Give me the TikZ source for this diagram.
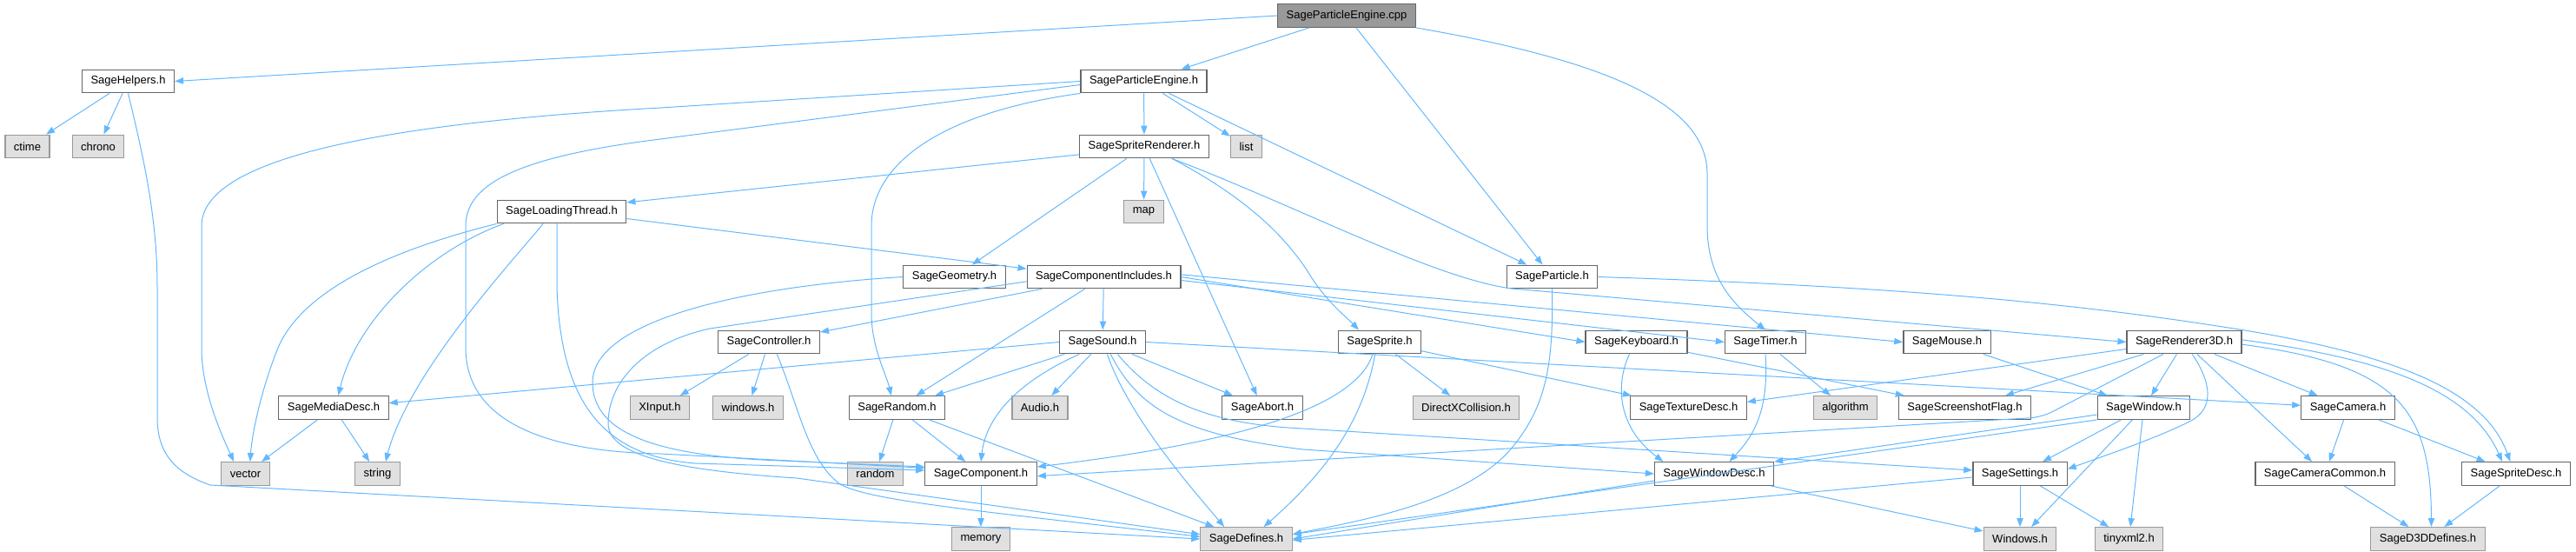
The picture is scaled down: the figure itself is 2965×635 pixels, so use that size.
\documentclass[tikz,border=0pt]{standalone}
\usepackage{fontspec}
\setmainfont{Liberation Sans}
\usetikzlibrary{arrows.meta}
\definecolor{dxedge}{HTML}{63B8FF}
\definecolor{dxborder}{HTML}{666666}
\definecolor{dxextborder}{HTML}{999999}
\definecolor{dxextfill}{HTML}{E0E0E0}
\definecolor{dxroot}{HTML}{999999}

\begin{document}
\begin{tikzpicture}[x=0.75pt, y=-0.75pt,
    hdr/.style={draw=dxborder, fill=white, line width=0.9pt, minimum height=20pt, inner xsep=7.5pt, inner ysep=0pt, font=\fontsize{9.75}{11}\selectfont},
    ext/.style={hdr, draw=dxextborder, fill=dxextfill},
    rootfile/.style={hdr, fill=dxroot},
    dep/.style={draw=dxedge, line width=0.75pt, -{Triangle[length=7.5pt,width=5.5pt]}}
  ]
  \useasboundingbox (0,0) rectangle (2965,635);

  % Row 0
  \node[rootfile] (cpp) at (1550,18) {SageParticleEngine.cpp};
  % Row 1
  \node[hdr] (helpers) at (147.5,93.5) {SageHelpers.h};
  \node[hdr] (pe) at (1316.5,93.5) {SageParticleEngine.h};
  % Row 2
  \node[ext] (ctime) at (31.5,168.5) {ctime};
  \node[ext] (chrono) at (113,168.5) {chrono};
  \node[hdr] (spr) at (1317,168.5) {SageSpriteRenderer.h};
  \node[ext] (list) at (1434.5,168.5) {list};
  % Row 3
  \node[hdr] (loading) at (646.5,243.5) {SageLoadingThread.h};
  \node[ext] (map) at (1316.5,243.5) {map};
  % Row 4
  \node[hdr] (geometry) at (1098.5,318.5) {SageGeometry.h};
  \node[hdr] (compinc) at (1270.5,318.5) {SageComponentIncludes.h};
  \node[hdr] (particle) at (1786.5,318.5) {SageParticle.h};
  % Row 5
  \node[hdr] (controller) at (885,393.5) {SageController.h};
  \node[hdr] (sound) at (1269,393.5) {SageSound.h};
  \node[hdr] (sprite) at (1588,393.5) {SageSprite.h};
  \node[hdr] (keyboard) at (1883.5,393.5) {SageKeyboard.h};
  \node[hdr] (timer) at (2032,393.5) {SageTimer.h};
  \node[hdr] (mouse) at (2241,393.5) {SageMouse.h};
  \node[hdr] (renderer) at (2514,393.5) {SageRenderer3D.h};
  % Row 6
  \node[hdr] (mediadesc) at (384,469) {SageMediaDesc.h};
  \node[ext] (xinput) at (759.5,469) {XInput.h};
  \node[ext] (winlower) at (861,469) {windows.h};
  \node[hdr] (random) at (1032.5,469) {SageRandom.h};
  \node[ext] (audio) at (1197,469) {Audio.h};
  \node[hdr] (abort) at (1453,469) {SageAbort.h};
  \node[ext] (dxcoll) at (1687.5,469) {DirectXCollision.h};
  \node[hdr] (texdesc) at (1943.5,469) {SageTextureDesc.h};
  \node[ext] (algorithm) at (2124,469) {algorithm};
  \node[hdr] (screenshot) at (2261.5,469) {SageScreenshotFlag.h};
  \node[hdr] (window) at (2467.5,469) {SageWindow.h};
  \node[hdr] (camera) at (2702.5,469) {SageCamera.h};
  % Row 7
  \node[ext] (vector) at (282.5,545) {vector};
  \node[ext] (string) at (434.5,545) {string};
  \node[ext] (randomstd) at (1007.5,545) {random};
  \node[hdr] (component) at (1129,545) {SageComponent.h};
  \node[hdr] (windesc) at (1973,545) {SageWindowDesc.h};
  \node[hdr] (settings) at (2325,545) {SageSettings.h};
  \node[hdr] (camcommon) at (2676,545) {SageCameraCommon.h};
  \node[hdr] (spritedesc) at (2896,545) {SageSpriteDesc.h};
  % Row 8
  \node[ext] (memory) at (1129,620) {memory};
  \node[ext] (defines) at (1434.5,620) {SageDefines.h};
  \node[ext] (winupper) at (2325,620) {Windows.h};
  \node[ext] (tinyxml) at (2450.5,620) {tinyxml2.h};
  \node[ext] (d3d) at (2794.5,620) {SageD3DDefines.h};

  % SageParticleEngine.cpp
  \draw[dep] (cpp.west) -- (helpers.east);
  \draw[dep] (cpp) -- (pe);
  \draw[dep] (cpp) -- (particle);
  \draw[dep] (cpp.south east) .. controls (1850,70) and (1965,120) .. (1965,200) -- (1965,260) .. controls (1965,320) and (1995,350) .. (timer.north);

  % SageHelpers.h
  \draw[dep] (helpers) -- (ctime);
  \draw[dep] (helpers) -- (chrono);
  \draw[dep] (helpers.south) .. controls (165,180) and (181,250) .. (181,330) -- (181,480) .. controls (181,525) and (205,545) .. (242,558) -- (defines.west);

  % SageParticleEngine.h
  \draw[dep] (pe) -- (spr);
  \draw[dep] (pe) -- (list);
  \draw[dep] (pe) -- (particle);
  \draw[dep] (pe.west) -- (760,124) .. controls (400,144) and (232,190) .. (232,260) -- (232,400) .. controls (232,450) and (255,500) .. ([xshift=-10pt]vector.north);
  \draw[dep] ([yshift=-3pt]pe.west) -- (760,160) .. controls (600,180) and (536,210) .. (536,260) -- (536,400) .. controls (536,490) and (640,520) .. (760,522) -- ([yshift=5pt]component.west);
  \draw[dep] (pe.south west) .. controls (1080,130) and (1003,190) .. (1003,260) -- (1003,360) .. controls (1003,400) and (1020,430) .. ([xshift=-5pt]random.north);

  % SageSpriteRenderer.h
  \draw[dep] ([yshift=-7pt]spr.west) -- ([yshift=8pt]loading.east);
  \draw[dep] (spr) -- (map);
  \draw[dep] (spr) -- (geometry);
  \draw[dep] (spr) -- (abort);
  \draw[dep] ([xshift=24pt]spr.south) .. controls (1430,225) and (1480,270) .. (1510,320) .. controls (1530,350) and (1550,365) .. ([xshift=-18pt]sprite.north);
  \draw[dep] ([xshift=24pt]spr.south) .. controls (1500,240) and (1650,320) .. (1740,332) -- (renderer.west);

  % SageLoadingThread.h
  \draw[dep] ([yshift=-6pt]loading.east) -- ([yshift=7pt]compinc.west);
  \draw[dep] (loading.south west) .. controls (460,285) and (350,330) .. (320,400) .. controls (300,450) and (290,500) .. ([xshift=4pt]vector.north);
  \draw[dep] ([xshift=6pt]loading.south west) .. controls (490,290) and (410,370) .. ([xshift=4pt]mediadesc.north);
  \draw[dep] ([xshift=-16pt]loading.south) .. controls (590,300) and (470,430) .. ([xshift=7pt]string.north);
  \draw[dep] ([xshift=-4pt]loading.south) -- (641,330) .. controls (645,470) and (700,525) .. (800,533) -- ([yshift=3pt]component.west);

  % SageGeometry.h
  \draw[dep] (geometry.west) .. controls (850,330) and (682,370) .. (682,440) .. controls (682,500) and (760,525) .. (900,530) -- ([yshift=6pt]component.west);

  % SageComponentIncludes.h
  \draw[dep] (compinc) -- (controller);
  \draw[dep] (compinc) -- (sound);
  \draw[dep] (compinc) -- (random);
  \draw[dep] ([yshift=-4pt]compinc.west) -- (817,378) .. controls (740,395) and (700,440) .. (700,487) .. controls (700,520) and (760,540) .. (917,550) -- ([yshift=4pt]defines.west);
  \draw[dep] (compinc.east) -- (keyboard.west);
  \draw[dep] ([yshift=-3pt]compinc.east) -- (timer.west);
  \draw[dep] ([yshift=2pt]compinc.east) -- (mouse.west);

  % SageParticle.h
  \draw[dep] (particle.east) .. controls (2200,330) and (2400,350) .. (2590,381) .. controls (2760,410) and (2860,450) .. ([xshift=-5pt]spritedesc.north);
  \draw[dep] (particle.south) .. controls (1788,420) and (1780,470) .. (1736,520) .. controls (1680,580) and (1560,600) .. ([yshift=4pt]defines.east);

  % SageController.h
  \draw[dep] (controller) -- (xinput);
  \draw[dep] (controller) -- (winlower);
  \draw[dep] ([xshift=7pt]controller.south) .. controls (920,470) and (930,530) .. (967,557) .. controls (1000,575) and (1100,585) .. ([yshift=2pt]defines.west);

  % SageSound.h
  \draw[dep] (sound.west) -- ([yshift=4pt]mediadesc.east);
  \draw[dep] (sound) -- (random);
  \draw[dep] ([xshift=-20pt]sound.south) .. controls (1170,440) and (1135,480) .. (component.north);
  \draw[dep] (sound) -- (audio);
  \draw[dep] (sound) -- (abort);
  \draw[dep] ([xshift=4pt]sound.south) .. controls (1300,480) and (1370,560) .. ([xshift=-19pt]defines.north);
  \draw[dep] ([xshift=7pt]sound.south) .. controls (1310,470) and (1360,500) .. (1500,517) -- (windesc.west);
  \draw[dep] ([xshift=13pt]sound.south) .. controls (1330,460) and (1390,488) .. (1500,493) -- ([yshift=3pt]settings.west);
  \draw[dep] (sound.east) -- ([yshift=2pt]camera.west);

  % SageSprite.h
  \draw[dep] ([xshift=-6pt]sprite.south) .. controls (1560,470) and (1420,510) .. ([yshift=6pt]component.east);
  \draw[dep] ([xshift=-4pt]sprite.south) .. controls (1570,480) and (1530,540) .. ([xshift=15pt]defines.north);
  \draw[dep] (sprite) -- (dxcoll);
  \draw[dep] (sprite) -- (texdesc);

  % SageKeyboard.h
  \draw[dep] ([xshift=-6pt]keyboard.south) .. controls (1860,440) and (1860,490) .. ([xshift=-44pt]windesc.north);
  \draw[dep] (keyboard) -- (screenshot);

  % SageTimer.h
  \draw[dep] (timer) -- (algorithm);
  \draw[dep] (timer.south) .. controls (2036,470) and (2020,500) .. ([xshift=13pt]windesc.north);

  % SageMouse.h
  \draw[dep] (mouse) -- (window);

  % SageRenderer3D.h
  \draw[dep] ([yshift=-6pt]renderer.west) -- ([yshift=5pt]texdesc.east);
  \draw[dep] (renderer) -- (screenshot);
  \draw[dep, rounded corners=10pt] ([xshift=-18pt]renderer.south) -- (2350,480) -- ([yshift=-2pt]component.east);
  \draw[dep] (renderer) -- (window);
  \draw[dep] ([xshift=7pt]renderer.south) .. controls (2545,440) and (2550,470) .. (2520,485) .. controls (2480,505) and (2420,525) .. ([yshift=4pt]settings.east);
  \draw[dep] (renderer) -- (camcommon);
  \draw[dep] (renderer) -- (camera);
  \draw[dep] ([yshift=-2pt]renderer.east) .. controls (2760,420) and (2798,470) .. ([xshift=3pt]d3d.north);
  \draw[dep] ([yshift=2pt]renderer.east) .. controls (2720,410) and (2840,440) .. ([xshift=-12pt]spritedesc.north);

  % SageWindow.h
  \draw[dep] ([yshift=-6pt]window.west) -- (windesc.north east);
  \draw[dep] (window.south west) -- ([yshift=4pt]defines.east);
  \draw[dep] (window) -- (settings);
  \draw[dep] (window) -- (winupper);
  \draw[dep] (window) -- (tinyxml);

  % SageCamera.h
  \draw[dep] (camera) -- (camcommon);
  \draw[dep] (camera) -- (spritedesc);

  % lower rows
  \draw[dep] ([yshift=-6pt]windesc.west) -- (defines.east);
  \draw[dep] (windesc) -- (winupper);
  \draw[dep] ([yshift=-3pt]settings.west) -- ([yshift=-1pt]defines.east);
  \draw[dep] (settings) -- (winupper);
  \draw[dep] (settings) -- (tinyxml);
  \draw[dep] (camcommon) -- (d3d);
  \draw[dep] (spritedesc) -- (d3d);
  \draw[dep] (random) -- (randomstd);
  \draw[dep] (random) -- (component);
  \draw[dep] (random) -- (defines);
  \draw[dep] (component) -- (memory);
  \draw[dep] (mediadesc) -- (vector);
  \draw[dep] (mediadesc) -- (string);
\end{tikzpicture}
\end{document}
